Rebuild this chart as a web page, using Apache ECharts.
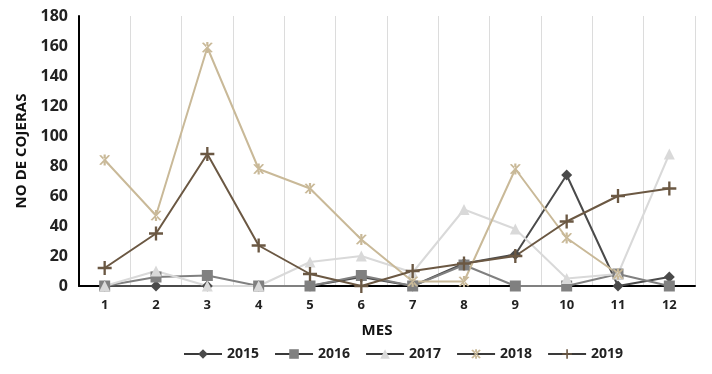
<!DOCTYPE html>
<html><head><meta charset="utf-8">
<script src="https://cdn.jsdelivr.net/npm/echarts@6/dist/echarts.min.js"></script>
<style>html,body{margin:0;padding:0;background:#fff}#c{width:712px;height:374px}</style>
</head><body><div id="c"></div>
<script>
var months = ['1','2','3','4','5','6','7','8','9','10','11','12'];
var s2015 = [0, 0, 0, 0, 0, 6, 0, 15, 21, 74, 0, 6];
var s2016 = [0, 6, 7, 0, 0, 7, 0, 14, 0, 0, 8, 0];
var s2017 = [0, 10, 0, 0, 16, 20, 9, 51, 38, 5, 8, 88];
var s2018 = [84, 47, 159, 78, 65, 31, 3, 3, 78, 32, 8, null];
var s2019 = [12, 35, 88, 27, 8, 0, 10, 15, 20, 43, 60, 65];
var seriesNames = ['2015','2016','2017','2018','2019'];

var plusPath = 'path://M-1,-6L1,-6L1,-1L6,-1L6,1L1,1L1,6L-1,6L-1,1L-6,1L-6,-1L-1,-1Z';
var starPath = 'path://M-0.6,-5L0.6,-5L0.6,5L-0.6,5Z M1.98,4.63L3.02,4.03L-1.98,-4.63L-3.02,-4.03Z M-1.98,4.63L-3.02,4.03L1.98,-4.63L3.02,-4.03Z';

function mk(name, data, color, symbol, size) {
  return {
    name: name, type: 'line', data: data, symbol: symbol, symbolSize: size,
    showAllSymbol: true, connectNulls: false,
    lineStyle: {color: color, width: 2},
    itemStyle: {color: color},
    emphasis: {disabled: true}
  };
}

var chart = echarts.init(document.getElementById('c'));
chart.setOption({
  animation: false,
  grid: {left: 79, right: 17, top: 16, bottom: 88},
  legend: {
    data: seriesNames.map(function (n) { return {name: n, lineStyle: {color: '#3a3a3a', width: 2}}; }),
    top: 342, left: 178, itemGap: 15, itemWidth: 38, itemHeight: 12,
    textStyle: {fontFamily: 'Open Sans', fontWeight: 'bold', fontSize: 14, color: '#222'}
  },
  xAxis: {
    type: 'category', data: months, boundaryGap: true,
    name: 'MES', nameLocation: 'middle', nameGap: 37,
    nameTextStyle: {fontFamily: 'Open Sans', fontWeight: 'bold', fontSize: 15, color: '#111', padding: [0, 20, 0, 0]},
    axisLine: {lineStyle: {color: '#000', width: 2}},
    axisTick: {show: false},
    axisLabel: {fontFamily: 'Open Sans', fontWeight: 'bold', fontSize: 13, color: '#222', margin: 13},
    splitLine: {show: true, lineStyle: {color: '#dcdcdc', width: 1}}
  },
  yAxis: {
    type: 'value', min: 0, max: 180, interval: 20,
    name: 'NO DE COJERAS', nameLocation: 'middle', nameGap: 50, nameRotate: 90,
    nameTextStyle: {fontFamily: 'Open Sans', fontWeight: 'bold', fontSize: 15, color: '#111'},
    axisLine: {show: true, lineStyle: {color: '#000', width: 2}},
    axisTick: {show: false},
    axisLabel: {fontFamily: 'Open Sans', fontWeight: 'bold', fontSize: 16, color: '#222', margin: 11},
    splitLine: {show: false}
  },
  series: [
    mk('2015', s2015, '#4a4a4a', 'diamond', 11),
    mk('2016', s2016, '#808080', 'rect', 11),
    mk('2017', s2017, '#d9d9d9', 'triangle', 11),
    mk('2018', s2018, '#c9b998', starPath, 11),
    mk('2019', s2019, '#6b5843', plusPath, 14)
  ]
});
</script></body></html>
